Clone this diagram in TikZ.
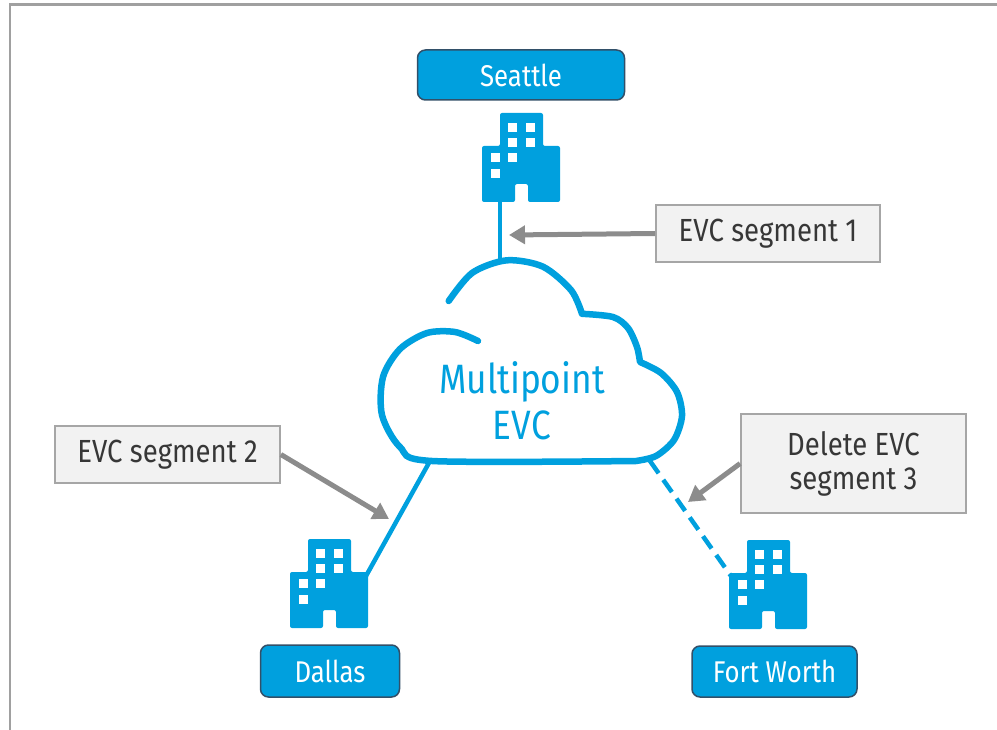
\documentclass[tikz,border=0pt]{standalone}
\usepackage{fontspec}
\setmainfont{Fira Sans}[FakeStretch=0.86]
\usetikzlibrary{arrows.meta}
\definecolor{evcblue}{RGB}{0,160,222}
\definecolor{labelrim}{RGB}{50,80,105}
\definecolor{notefill}{RGB}{242,242,242}
\definecolor{noterim}{RGB}{166,166,166}
\definecolor{notetext}{RGB}{55,55,55}
\definecolor{pointergray}{RGB}{140,140,140}
\definecolor{framegray}{RGB}{160,160,160}
% office building icon: #1 name, #2 top left corner
\newcommand{\bldg}[2]{%
  \begin{scope}[shift={#2}]
    \fill[evcblue, rounded corners=2pt]
      (18,0) -- (61,0) -- (61,33) -- (78,33) -- (78,89) -- (46,89) -- (46,71)
      -- (33,71) -- (33,89) -- (0,89) -- (0,33) -- (18,33) -- cycle;
    \fill[white] (26,10) rectangle +(9,9);
    \fill[white] (44,10) rectangle +(9,9);
    \fill[white] (26,25) rectangle +(9,9);
    \fill[white] (44,25) rectangle +(9,9);
    \fill[white] (9,40) rectangle +(9,9);
    \fill[white] (26,40) rectangle +(9,9);
    \fill[white] (9,56) rectangle +(9,9);
    \coordinate (#1-s) at (18,88);
    \coordinate (#1-nw) at (2,36);
    \coordinate (#1-ne) at (76,37);
  \end{scope}}
\begin{document}
\begin{tikzpicture}[x=1pt,y=-1pt,
    place/.style={draw=labelrim, line width=1.5pt, fill=evcblue, rounded corners=8pt,
      text=white, font=\fontsize{30}{34}\selectfont, inner sep=0pt},
    note/.style={draw=noterim, line width=1.8pt, fill=notefill, text=notetext,
      font=\fontsize{32}{34}\selectfont, inner sep=0pt, align=center},
    link/.style={evcblue, line width=4.5pt},
    pointer/.style={pointergray, line width=5pt, -{Triangle[length=16pt,width=18pt]}}]
  \useasboundingbox (0,0) rectangle (997,730);
  \draw[framegray, line width=2.5pt] (997,4.5) -- (10,4.5) -- (10,730);
  \draw
    (521,75) node[place, minimum width=207pt, minimum height=50pt] (seattle) {Seattle}
    (330,671) node[place, minimum width=139pt, minimum height=52pt] (dallas) {Dallas}
    (774.5,671.5) node[place, minimum width=165pt, minimum height=51pt] (fortworth) {Fort Worth};
  \bldg{sea}{(482,113)}
  \bldg{dal}{(290,539)}
  \bldg{ftw}{(729,540)}
  % the cloud
  \draw[evcblue, line width=6.5pt, line cap=round, line join=round]
    plot[smooth] coordinates {(448.7,301) (472.3,272.8) (506.8,260.3) (543,266.7) (571.2,290.3) (582,313.8)}
    -- plot[smooth] coordinates {(582,313.8) (613,317) (628,328) (637,347) (640,362)}
    -- plot[smooth] coordinates {(640,362) (661,373) (677,392) (682,416) (674,440) (656,456) (636,461)}
    -- plot[smooth] coordinates {(636,461) (432,461) (400,447) (382,415) (383,377) (400,349) (427,333) (455,332) (478,341)};
  \node[text=evcblue, font=\fontsize{41}{46}\selectfont, align=center] (evc) at (522,401) {Multipoint\\EVC};
  \coordinate (cloud-n) at (500,261);
  \coordinate (cloud-sw) at (430,461);
  \coordinate (cloud-se) at (650,461);
  \draw[link] (sea-s) -- (cloud-n);
  \draw[link] (dal-ne) -- (cloud-sw);
  \draw[link, dash pattern=on 15pt off 8pt] (cloud-se) -- (ftw-nw);
  \draw
    (768,233.5) node[note, minimum width=224pt, minimum height=57pt] (seg1) {EVC segment 1}
    (167.5,454.5) node[note, minimum width=225pt, minimum height=57pt] (seg2) {EVC segment 2}
    (853.5,463.5) node[note, minimum width=225pt, minimum height=99pt] (seg3) {Delete EVC\\segment 3};
  \coordinate (tip1) at (509,235);
  \coordinate (tip2) at (389,519);
  \coordinate (tip3) at (688,502);
  \begin{scope}[pointer]
    \draw (seg1.west) -- (tip1);
    \draw (seg2.east) -- (tip2);
    \draw (seg3.west) -- (tip3);
  \end{scope}
\end{tikzpicture}
\end{document}
